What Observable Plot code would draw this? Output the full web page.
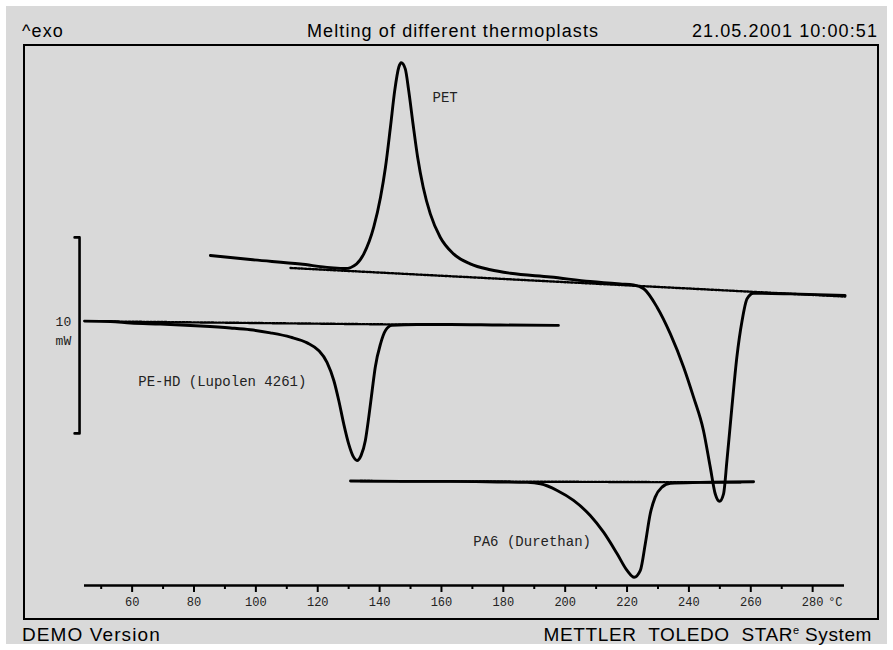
<!DOCTYPE html>
<html><head><meta charset="utf-8">
<script src="https://cdn.jsdelivr.net/npm/d3@7"></script>
<script src="https://cdn.jsdelivr.net/npm/@observablehq/plot@0.6"></script>
<style>
html,body{margin:0;padding:0;background:#fff;}
#page{position:relative;width:893px;height:650px;overflow:hidden;font-family:"Liberation Sans",Arial,sans-serif;color:#000;}
#panel{position:absolute;left:6px;top:6px;width:881px;height:638px;background:#d9d9d9;}
.hdr{position:absolute;font-size:18px;letter-spacing:1.1px;line-height:18px;white-space:nowrap;}
.ftr{position:absolute;font-size:19px;letter-spacing:1.1px;line-height:19px;white-space:nowrap;}
.ftr sup{font-size:11px;letter-spacing:0;vertical-align:7px;line-height:0;}
#frame{position:absolute;left:23px;top:44px;width:852px;height:572px;border:2px solid #000;}
#chart{position:absolute;left:0;top:45px;}
</style></head>
<body>
<div id="page">
  <div id="panel"></div>
  <div id="frame"></div>
  <div class="hdr" style="left:22px;top:22px;">^exo</div>
  <div class="hdr" style="left:307px;top:22px;">Melting of different thermoplasts</div>
  <div class="hdr" style="right:15px;top:22px;">21.05.2001 10:00:51</div>
  <div class="ftr" style="left:22px;top:625px;">DEMO Version</div>
  <div class="ftr" style="right:21px;top:625px;letter-spacing:0.6px;">METTLER&nbsp;&nbsp;TOLEDO&nbsp;&nbsp;STAR<sup>e</sup>&nbsp;System</div>
  <div id="chart"></div>
</div>
<script>
// temperature axis (°C)
const xDomain = [44.6, 290.3];
const majorTicks = [60, 80, 100, 120, 140, 160, 180, 200, 220, 240, 260, 280];
const minorTicks = [50, 70, 90, 110, 130, 150, 170, 190, 210, 230, 250, 270];
const unitLabel = "°C";
const unitTick = 280;

// PET curve: temperature (°C) and heat flow (mW, with offset)
const petT  = [85.3, 98.2, 114.4, 124.1, 128.9, 132.5, 134.9, 138.1, 140.3, 141.9, 143.5, 144.9, 146.2, 147.0, 148.3, 149.4, 150.8, 152.3, 154.1, 156.4, 159.6, 163.9, 169.3, 175.8, 182.3, 195.2, 208.1, 217.8, 222.1, 225.4, 229.7, 234.0, 238.3, 241.5, 244.7, 246.9, 248.5, 249.9, 251.2, 252.3, 253.9, 255.5, 257.2, 258.8, 260.9, 272.8, 290.5];
const petHF = [16.84, 16.63, 16.40, 16.22, 16.17, 16.40, 16.92, 18.28, 19.81, 21.34, 23.38, 25.26, 26.44, 26.67, 26.36, 25.26, 23.56, 21.85, 20.32, 18.96, 17.77, 16.92, 16.41, 16.11, 15.93, 15.74, 15.51, 15.38, 15.33, 15.14, 14.20, 12.84, 11.14, 9.61, 7.91, 6.04, 4.68, 4.30, 4.68, 6.38, 9.10, 11.65, 13.52, 14.63, 14.91, 14.88, 14.80];

// PE-HD curve
const peT  = [44.6, 53.0, 59.5, 69.1, 82.1, 91.8, 98.2, 104.7, 111.2, 116.6, 120.3, 123.0, 125.2, 126.8, 128.4, 130.0, 131.6, 132.7, 134.0, 135.4, 136.5, 137.6, 138.6, 140.3, 141.9, 144.0, 152.1, 162.9, 179.0, 197.8];
const peHF = [13.49, 13.47, 13.39, 13.34, 13.24, 13.14, 13.05, 12.89, 12.67, 12.38, 11.99, 11.39, 10.46, 9.44, 8.25, 7.23, 6.55, 6.38, 6.63, 7.40, 8.59, 9.95, 11.14, 12.33, 13.01, 13.27, 13.32, 13.32, 13.29, 13.27];

// PA6 curve
const paT  = [130.6, 146.7, 162.9, 179.0, 187.7, 192.0, 197.4, 202.7, 208.1, 212.4, 216.8, 220.0, 222.3, 224.3, 225.9, 227.5, 229.1, 231.3, 234.0, 243.7, 260.9];
const paHF = [5.33, 5.31, 5.31, 5.28, 5.26, 5.19, 4.85, 4.34, 3.57, 2.72, 1.62, 0.77, 0.42, 0.77, 2.13, 3.66, 4.51, 5.02, 5.22, 5.26, 5.29];

// integration baselines (dotted)
const baseSeries = ["PET", "PE-HD", "PA6"];
const baseT1  = [111.2, 53.0, 133.8];
const baseHF1 = [16.20, 13.47, 5.33];
const baseT2  = [290.5, 156.4, 256.6];
const baseHF2 = [14.74, 13.30, 5.26];

// 10 mW scale bar
const barT  = [41.4, 43.0, 43.0, 41.4];
const barHF = [17.76, 17.76, 7.76, 7.76];
const barText = ["10", "mW"];
const barTextT = [40.3, 40.3];
const barTextHF = [13.47, 12.46];

// curve labels
const labelText = ["PET", "PE-HD (Lupolen 4261)", "PA6 (Durethan)"];
const labelT  = [157.1, 62.0, 170.3];
const labelHF = [24.91, 10.41, 2.24];

const curves = [
  ...petT.map((t, i) => ({series: "PET", t, hf: petHF[i]})),
  ...peT.map((t, i) => ({series: "PE-HD", t, hf: peHF[i]})),
  ...paT.map((t, i) => ({series: "PA6", t, hf: paHF[i]}))
];
const baselines = baseSeries.flatMap((s, i) => [
  {series: s, t: baseT1[i], hf: baseHF1[i]},
  {series: s, t: baseT2[i], hf: baseHF2[i]}
]);
const bar = barT.map((t, i) => ({t, hf: barHF[i]}));
const barLabels = barText.map((s, i) => ({s, t: barTextT[i], hf: barTextHF[i]}));
const labels = labelText.map((s, i) => ({s, t: labelT[i], hf: labelHF[i]}));

const mono = "'Liberation Mono', 'DejaVu Sans Mono', monospace";

const chart = Plot.plot({
  width: 893,
  height: 574,
  marginLeft: 84,
  marginRight: 49,
  marginTop: 0,
  marginBottom: 34,
  style: {background: "transparent", color: "#000", overflow: "visible"},
  x: {domain: xDomain, label: null},
  y: {domain: [0, 27.551], axis: null, label: null},
  marks: [
    Plot.ruleY([0], {stroke: "#000", strokeWidth: 2.4}),
    Plot.axisX({ticks: minorTicks, tickSize: 4, tickFormat: () => "", strokeWidth: 2, label: null}),
    Plot.axisX({ticks: majorTicks, tickSize: 7, tickPadding: 5, strokeWidth: 2, fontSize: 12, fontFamily: mono, fill: "#222", tickFormat: d => String(d), label: null}),
    Plot.text([{t: unitTick, s: unitLabel}], {x: "t", text: "s", frameAnchor: "bottom", dy: 12, dx: 15.5, textAnchor: "start", lineAnchor: "top", fontSize: 12, fontFamily: mono, fill: "#222"}),
    Plot.line(curves, {x: "t", y: "hf", z: "series", curve: "monotone-x", stroke: "#000", strokeWidth: 2.9, strokeLinejoin: "round", strokeLinecap: "round"}),
    Plot.line(baselines, {x: "t", y: "hf", z: "series", stroke: "#000", strokeWidth: 2.4, strokeDasharray: "2,1.6"}),
    Plot.line(bar, {x: "t", y: "hf", stroke: "#000", strokeWidth: 2.6}),
    Plot.text(barLabels, {x: "t", y: "hf", text: "s", textAnchor: "end", fontSize: 13, fontFamily: mono, fill: "#222"}),
    Plot.text(labels, {x: "t", y: "hf", text: "s", textAnchor: "start", fontSize: 14, fontFamily: mono, fill: "#222"})
  ]
});
document.getElementById("chart").appendChild(chart);
</script>
</body></html>
